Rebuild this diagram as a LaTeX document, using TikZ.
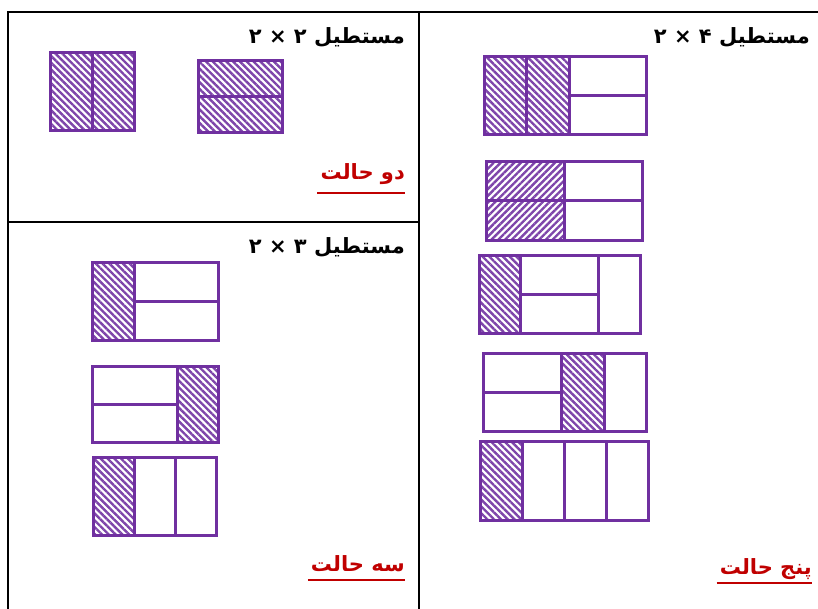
\documentclass[tikz,border=0pt]{standalone}
\usepackage{fontspec}
\usetikzlibrary{patterns.meta}
\newfontfamily\arabicfont[Script=Arabic]{DejaVu Sans}
\TeXXeTstate=1
\definecolor{tilepurple}{HTML}{7030A0}
\definecolor{labelred}{HTML}{C00000}

\begin{document}
\begin{tikzpicture}[x=1pt, y=-1pt,
    gridline/.style={line width=2pt, black},
    tile/.style={draw=tilepurple, line width=3pt},
    hatchtile/.style={tile, pattern={Lines[angle=-45, distance=4.8pt, line width=2.4pt]}, pattern color=tilepurple!90},
    hatchflip/.style={tile, pattern={Lines[angle=45, distance=4.8pt, line width=2.4pt]}, pattern color=tilepurple!90},
    titletext/.style={anchor=east, inner sep=0pt, font=\arabicfont\bfseries\fontsize{21}{25}\selectfont},
    counttext/.style={anchor=east, inner sep=0pt, text=labelred, font=\arabicfont\bfseries\fontsize{21}{25}\selectfont},
    uline/.style={labelred, line width=2pt}
]
    \useasboundingbox (0,0) rectangle (818,609);

    % table
    \draw[gridline] (8,609) -- (8,12) -- (818,12);
    \draw[gridline] (419,12) -- (419,609);
    \draw[gridline] (8,222) -- (419,222);

    % 2 x 2
    \node[titletext] (t22) at (405,37) {\beginR مستطیل ۲ × ۲\endR};
    \draw[hatchtile] (50,53) rectangle (92,131);
    \draw[hatchtile] (92,53) rectangle (134,131);
    \draw[hatchtile] (198,61) rectangle (282,97);
    \draw[hatchtile] (198,97) rectangle (282,133);
    \node[counttext] (c22) at (405,174) {\beginR دو حالت\endR};
    \draw[uline] ([xshift=-3pt,yshift=-8pt]c22.south west) -- ([yshift=-8pt]c22.south east);

    % 2 x 3
    \node[titletext] (t23) at (405,247) {\beginR مستطیل ۳ × ۲\endR};
    \draw[hatchtile] (92,263) rectangle (134,340);
    \draw[tile] (134,263) rectangle (218,301);
    \draw[tile] (134,301) rectangle (218,340);
    \draw[tile] (92,366) rectangle (177,404);
    \draw[tile] (92,404) rectangle (177,442);
    \draw[hatchtile] (177,366) rectangle (218,442);
    \draw[hatchtile] (93,457) rectangle (134,535);
    \draw[tile] (134,457) rectangle (175,535);
    \draw[tile] (175,457) rectangle (216,535);
    \node[counttext] (c23) at (405,564) {\beginR سه حالت\endR};
    \draw[uline] ([xshift=-3pt,yshift=-8pt]c23.south west) -- ([yshift=-8pt]c23.south east);

    % 2 x 4
    \node[titletext] (t24) at (810,37) {\beginR مستطیل ۴ × ۲\endR};
    \draw[hatchtile] (484,57) rectangle (526,135);
    \draw[hatchtile] (526,57) rectangle (569,135);
    \draw[tile] (569,57) rectangle (646,96);
    \draw[tile] (569,96) rectangle (646,135);

    \draw[hatchflip] (486,162) rectangle (564,201);
    \draw[hatchflip] (486,201) rectangle (564,241);
    \draw[tile] (564,162) rectangle (642,201);
    \draw[tile] (564,201) rectangle (642,241);

    \draw[hatchtile] (479,256) rectangle (520,333);
    \draw[tile] (520,256) rectangle (598,294);
    \draw[tile] (520,294) rectangle (598,333);
    \draw[tile] (598,256) rectangle (640,333);

    \draw[tile] (483,353) rectangle (561,392);
    \draw[tile] (483,392) rectangle (561,431);
    \draw[hatchtile] (561,353) rectangle (604,431);
    \draw[tile] (604,353) rectangle (646,431);

    \draw[hatchtile] (480,441) rectangle (522,520);
    \draw[tile] (522,441) rectangle (564,520);
    \draw[tile] (564,441) rectangle (606,520);
    \draw[tile] (606,441) rectangle (648,520);
    \node[counttext] (c24) at (812,569) {\beginR پنج حالت\endR};
    \draw[uline] ([xshift=-3pt,yshift=-3pt]c24.south west) -- ([yshift=-3pt]c24.south east);
\end{tikzpicture}
\end{document}
